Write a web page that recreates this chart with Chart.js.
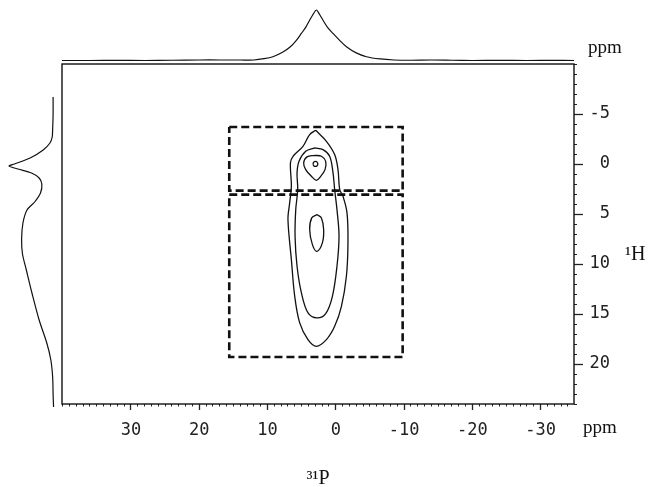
<!DOCTYPE html>
<html>
<head>
<meta charset="utf-8">
<script src="https://cdn.jsdelivr.net/npm/chart.js@4.4.1/dist/chart.umd.min.js"></script>
<style>
html, body { margin: 0; padding: 0; background: #ffffff; }
#wrap { position: relative; width: 651px; height: 487px; overflow: hidden; background: #ffffff; }
#wrap canvas { position: absolute; left: 0; top: 0; }
</style>
</head>
<body>
<div id="wrap">
  <canvas id="main" width="651" height="487"></canvas>
  <canvas id="top" width="651" height="64"></canvas>
  <canvas id="left" width="62" height="487"></canvas>
</div>
<script>
// ---------- DATA ----------
// Axis ranges (ppm)
const pRange = [40.1, -34.9];   // 31P axis, left to right
const hRange = [-10, 24];       // 1H axis, top to bottom

// Tick labels
const xTickLabels = [30, 20, 10, 0, -10, -20, -30];
const yTickLabels = [-5, 0, 5, 10, 15, 20];
const unitLabel = 'ppm';
const xTitle = '³¹P';
const yTitle = '¹H';

// Top projection (31P) : ppm, intensity
const topProjPpm = [40.1, 36, 32, 28, 24, 20, 17, 14, 12, 10.5, 9.2, 7.8, 6.65, 5.8, 5.04, 4.4, 3.82, 3.3, 2.84, 2.4, 1.87, 1.2, 0.4, -0.6, -1.56, -3.0, -4.5, -6.5, -8.5, -11, -14, -17, -20, -24, -28, -32, -34.9];
const topProjInt = [0.01, 0.01, 0.012, 0.01, 0.015, 0.02, 0.02, 0.02, 0.02, 0.045, 0.084, 0.17, 0.28, 0.40, 0.54, 0.66, 0.80, 0.92, 1.0, 0.92, 0.80, 0.66, 0.54, 0.40, 0.28, 0.16, 0.084, 0.04, 0.02, 0.015, 0.02, 0.015, 0.01, 0.012, 0.01, 0.012, 0.01];

// Left projection (1H) : ppm, intensity
const leftProjPpm = [-6.7, -5.0, -3.5, -2.7, -2.1, -1.4, -0.6, 0.0, 0.2, 0.5, 0.9, 1.4, 2.0, 2.9, 3.8, 4.6, 5.9, 7.5, 9.0, 10.5, 12.9, 15.6, 17.9, 19.6, 21.3, 23.0, 24.3];
const leftProjInt = [0.02, 0.02, 0.03, 0.04, 0.09, 0.24, 0.53, 0.88, 1.0, 0.8, 0.5, 0.33, 0.27, 0.3, 0.43, 0.6, 0.69, 0.72, 0.70, 0.62, 0.49, 0.33, 0.16, 0.07, 0.03, 0.02, 0.01];

// Contour levels: [31P ppm, 1H ppm]
const contourOuter = [[2.94,-3.37],[1.37,-2.27],[0.16,-0.94],[-0.33,0.56],[-0.58,2.56],[-1.06,3.23],[-1.65,4.89],[-1.79,7.89],[-1.56,11.23],[-0.83,14.23],[0.16,16.23],[1.37,17.56],[2.84,18.23],[4.07,17.56],[5.28,15.89],[6.01,13.23],[6.5,9.56],[7.0,5.56],[6.75,3.89],[6.5,2.23],[6.64,-0.11],[6.26,-0.77],[4.8,-1.77],[3.82,-2.94]];
const contourMiddle = [[3.08,-1.61],[1.87,-1.44],[0.89,-0.77],[0.4,0.89],[0.16,2.56],[-0.18,4.56],[-0.48,7.23],[-0.18,10.23],[0.49,13.23],[1.47,14.96],[2.75,15.39],[4.06,14.89],[5.03,12.89],[5.67,10.23],[5.96,7.23],[5.86,4.56],[5.57,2.56],[5.67,0.89],[5.38,-0.27],[4.4,-1.27]];
const contourInnerTop = [[3.08,-0.87],[2.1,-0.77],[1.47,-0.27],[1.57,0.56],[2.21,1.23],[2.84,1.63],[3.57,1.23],[4.4,0.56],[4.7,-0.11],[4.21,-0.71]];
const contourPeakTop = [[3.33,-0.01],[3.23,0.17],[2.98,0.24],[2.73,0.17],[2.63,-0.01],[2.73,-0.19],[2.98,-0.26],[3.23,-0.19]];
const contourInnerLow = [[2.75,5.06],[2.1,5.39],[1.77,6.56],[1.96,7.89],[2.75,8.73],[3.42,8.06],[3.82,6.56],[3.52,5.39]];

// Integration regions (dashed boxes): [p1, p2], [h1, h2]
const boxUpperP = [15.6, -9.8];
const boxUpperH = [-3.7, 2.66];
const boxLowerP = [15.6, -9.8];
const boxLowerH = [3.06, 19.3];

// ---------- BUILD ----------
const MONO = "'DejaVu Sans Mono', monospace";
const SERIF = "'Liberation Serif', 'DejaVu Serif', serif";
const INK = '#111';

function closedPts(arr) {
  return arr.concat([arr[0]]).map(([p, h]) => ({ x: p, y: h }));
}
function rectPts(ps, hs) {
  return [
    { x: ps[0], y: hs[0] }, { x: ps[1], y: hs[0] },
    { x: ps[1], y: hs[1] }, { x: ps[0], y: hs[1] },
    { x: ps[0], y: hs[0] }
  ];
}
function contourDs(arr) {
  return { data: closedPts(arr), showLine: true, pointRadius: 0, borderColor: INK, borderWidth: 1.3, tension: 0.35, fill: false };
}
function boxDs(ps, hs) {
  return { data: rectPts(ps, hs), showLine: true, pointRadius: 0, borderColor: INK, borderWidth: 2.6, borderDash: [8, 4], tension: 0, fill: false };
}
const isInt = v => Math.abs(v - Math.round(v)) < 1e-6;
function integerTicks(s) {
  const t = [];
  for (let v = Math.ceil(s.min); v <= Math.floor(s.max); v++) t.push({ value: v });
  s.ticks = t;
}

const framePlugin = {
  id: 'frameAndTexts',
  afterDraw(chart) {
    const { ctx, chartArea: a } = chart;
    ctx.save();
    ctx.strokeStyle = INK;
    ctx.lineWidth = 1.4;
    ctx.strokeRect(a.left, a.top, a.right - a.left, a.bottom - a.top);
    ctx.fillStyle = INK;
    ctx.font = '19px ' + SERIF;
    ctx.textBaseline = 'alphabetic';
    ctx.textAlign = 'left';
    ctx.fillText(unitLabel, a.right + 14, 53);
    ctx.fillText(unitLabel, a.right + 9, 433);
    ctx.font = '20px ' + SERIF;
    ctx.fillText(yTitle, a.right + 51, 260);
    ctx.restore();
  }
};

new Chart(document.getElementById('main'), {
  type: 'scatter',
  data: {
    datasets: [
      contourDs(contourOuter),
      contourDs(contourMiddle),
      contourDs(contourInnerTop),
      contourDs(contourPeakTop),
      contourDs(contourInnerLow),
      boxDs(boxUpperP, boxUpperH),
      boxDs(boxLowerP, boxLowerH)
    ]
  },
  options: {
    responsive: false,
    animation: false,
    layout: { padding: { left: 62, top: 64, right: 41, bottom: 0 } },
    plugins: { legend: { display: false }, tooltip: { enabled: false } },
    scales: {
      x: {
        type: 'linear', position: 'bottom', reverse: true,
        min: pRange[1], max: pRange[0],
        afterFit: s => { s.height = 83; },
        afterBuildTicks: integerTicks,
        ticks: {
          autoSkip: false, maxRotation: 0, minRotation: 0, padding: 14,
          color: '#222', font: { family: MONO, size: 17 },
          callback: v => (isInt(v) && xTickLabels.includes(Math.round(v))) ? String(Math.round(v)) : ''
        },
        grid: { drawOnChartArea: false, tickLength: 2.5, tickColor: '#222', tickWidth: 1 },
        border: { display: false },
        title: { display: true, text: xTitle, color: INK, font: { family: SERIF, size: 20 }, padding: { top: 0, bottom: -4 } }
      },
      y: {
        type: 'linear', position: 'right', reverse: true,
        min: hRange[0], max: hRange[1],
        afterFit: s => { s.width = 36; },
        afterBuildTicks: integerTicks,
        ticks: {
          autoSkip: false, crossAlign: 'far', padding: 4,
          color: '#222', font: { family: MONO, size: 17 },
          callback: v => (isInt(v) && yTickLabels.includes(Math.round(v))) ? String(Math.round(v)) : ''
        },
        grid: { drawOnChartArea: false, tickLength: 3, tickColor: '#222', tickWidth: 1 },
        border: { display: false }
      },
      xMajor: {
        type: 'linear', position: { y: hRange[1] }, reverse: true,
        min: pRange[1], max: pRange[0],
        afterBuildTicks: s => { s.ticks = xTickLabels.map(v => ({ value: v })); },
        ticks: { display: false },
        grid: { drawOnChartArea: false, tickLength: 6, tickColor: '#222', tickWidth: 1.3 },
        border: { display: false }
      },
      yMajor: {
        type: 'linear', position: { x: pRange[1] }, reverse: true,
        min: hRange[0], max: hRange[1],
        afterBuildTicks: s => { s.ticks = yTickLabels.map(v => ({ value: v })); },
        ticks: { display: false },
        grid: { drawOnChartArea: false, tickLength: -9, tickColor: '#222', tickWidth: 1.3 },
        border: { display: false }
      }
    }
  },
  plugins: [framePlugin]
});

// Top projection
new Chart(document.getElementById('top'), {
  type: 'scatter',
  data: {
    datasets: [{
      data: topProjPpm.map((p, i) => ({ x: p, y: topProjInt[i] })),
      showLine: true, pointRadius: 0, borderColor: INK, borderWidth: 1.2, tension: 0.3, clip: false
    }]
  },
  options: {
    responsive: false, animation: false,
    layout: { padding: { left: 62, right: 77, top: 10, bottom: 3 } },
    plugins: { legend: { display: false }, tooltip: { enabled: false } },
    scales: {
      x: { type: 'linear', display: false, reverse: true, min: pRange[1], max: pRange[0] },
      y: { type: 'linear', display: false, min: 0, max: 1 }
    }
  }
});

// Left projection
new Chart(document.getElementById('left'), {
  type: 'scatter',
  data: {
    datasets: [{
      data: leftProjPpm.map((h, i) => ({ x: leftProjInt[i], y: h })),
      showLine: true, pointRadius: 0, borderColor: INK, borderWidth: 1.2, tension: 0.3, clip: false
    }]
  },
  options: {
    responsive: false, animation: false,
    layout: { padding: { left: 9, right: 8, top: 64, bottom: 83 } },
    plugins: { legend: { display: false }, tooltip: { enabled: false } },
    scales: {
      x: { type: 'linear', display: false, reverse: true, min: 0, max: 1 },
      y: { type: 'linear', display: false, reverse: true, min: hRange[0], max: hRange[1] }
    }
  }
});
</script>
</body>
</html>
